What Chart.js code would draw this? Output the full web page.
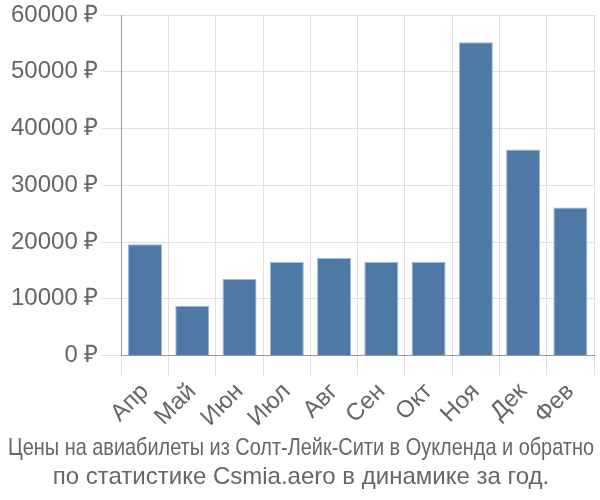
<!DOCTYPE html>
<html>
<head>
<meta charset="utf-8">
<script src="https://cdn.jsdelivr.net/npm/chart.js@4"></script>
<style>
  html, body { margin: 0; padding: 0; background: #fff; }
  #wrap { width: 600px; height: 500px; }
</style>
</head>
<body>
<div id="wrap"><canvas id="price-chart"></canvas></div>
<script>
const months = ['Апр', 'Май', 'Июн', 'Июл', 'Авг', 'Сен', 'Окт', 'Ноя', 'Дек', 'Фев'];
const prices = [19600, 8800, 13500, 16500, 17200, 16500, 16500, 55200, 36300, 26100];
const titleLines = [
    'Цены на авиабилеты из Солт-Лейк-Сити в Оукленда и обратно',
    'по статистике Csmia.aero в динамике за год.'
];

(() => {
    Chart.defaults.font.family = "'Liberation Sans', Arial, sans-serif";
    Chart.defaults.color = '#666';

    const ctx = document.getElementById('price-chart').getContext('2d');
    const config = {
        type: 'bar',
        data: {
            labels: months,
            datasets: [{
                data: prices,
                backgroundColor: 'rgb(78, 121, 167)',
                borderColor: 'rgb(160, 185, 215)',
                borderWidth: 1
            }]
        },
        options: {
            responsive: true,
            maintainAspectRatio: false,
            animation: false,
            layout: { padding: { top: 0, right: 6, left: 8, bottom: 0 } },
            plugins: {
                legend: { display: false },
                tooltip: { enabled: false },
                title: {
                    display: true,
                    position: 'bottom',
                    text: titleLines,
                    color: '#666',
                    font: { size: 24, weight: 'normal' },
                    padding: { top: 0, bottom: 8 },
                    lineHeight: 1.17
                }
            },
            scales: {
                x: {
                    grid: { color: '#e0e0e0', tickLength: 20 },
                    border: { color: '#999' },
                    ticks: { font: { size: 24 }, maxRotation: 45, minRotation: 45, padding: 2, color: '#666' }
                },
                y: {
                    min: 0,
                    max: 60000,
                    grid: { color: '#e0e0e0', tickLength: 20 },
                    border: { color: '#999' },
                    ticks: {
                        stepSize: 10000,
                        font: { size: 24, lineHeight: 1.0 },
                        color: '#666',
                        callback: v => v + ' ₽'
                    }
                }
            }
        }
    };
    const priceChart = new Chart(ctx, config);
})();
</script>
</body>
</html>
